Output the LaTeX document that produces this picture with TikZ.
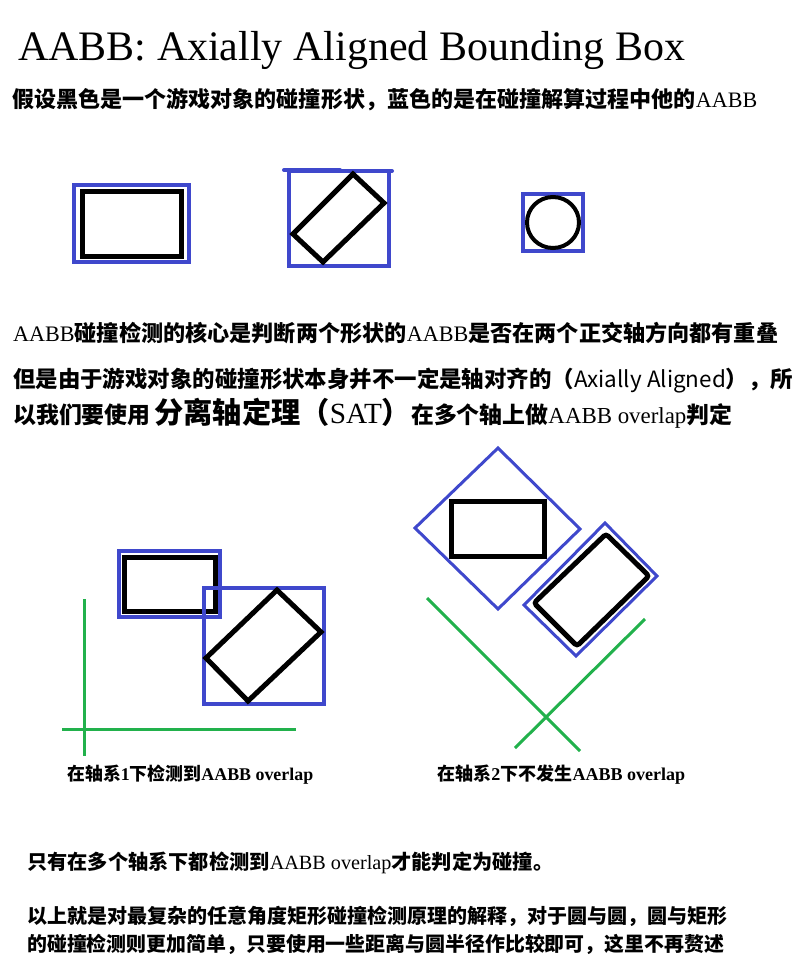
\documentclass[tikz,border=0pt]{standalone}
\usepackage{fontspec}
\usepackage{graphicx}
\setmainfont{Liberation Serif}
\newfontfamily\zhfont{Noto Sans CJK SC}
\newcommand{\zh}[1]{{\zhfont\bfseries #1}}
\newlength{\pxu}
\setlength{\pxu}{0.03cm}
\newcommand{\fitline}[2]{\resizebox{#1\pxu}{!}{#2}}
\definecolor{paintblue}{RGB}{63,72,204}
\definecolor{paintgreen}{RGB}{34,177,76}
\begin{document}
\begin{tikzpicture}[x=0.03cm,y=-0.03cm,
        aabb/.style={draw=paintblue,line width=4\pxu},
        collider/.style={draw=black,line width=5\pxu},
        axisline/.style={draw=paintgreen,line width=3\pxu},
        txt/.style={anchor=west,inner sep=0pt,font=\fontsize{18}{20}\selectfont},
        legende/.style={anchor=west,inner sep=0pt,font=\fontsize{13}{15}\selectfont\bfseries}]
    \useasboundingbox (0,0) rectangle (800,972);
    \node[anchor=west,inner sep=0pt,font=\fontsize{35}{40}\selectfont] (titre) at (18,50) {\fitline{667}{AABB: Axially Aligned Bounding Box}};
    \node[txt] (intro) at (12,100) {\fitline{745}{\zh{假设黑色是一个游戏对象的碰撞形状，蓝色的是在碰撞解算过程中他的}AABB}};
    % les trois formes et leur AABB
    \draw[aabb] (74,185) rectangle (189,262);
    \draw[collider] (82,191) rectangle (181,256);
    \draw[aabb] (289,171) rectangle (389,266);
    \draw[aabb,line cap=round] (284,170) -- (340,170) (340,171) -- (392,171);
    \draw[collider] (353,174) -- (384,203) -- (323,262) -- (293,234) -- cycle;
    \draw[aabb] (523,194) rectangle (583,251);
    \draw[collider,line width=4\pxu] (553,222.5) ellipse [x radius=26\pxu, y radius=25.5\pxu];
    % texte du milieu
    \node[txt] (coeur) at (13,333) {\fitline{765}{AABB\zh{碰撞检测的核心是判断两个形状的}AABB\zh{是否在两个正交轴方向都有重叠}}};
    \node[txt] (sat1) at (13,381) {\fitline{780}{\zh{但是由于游戏对象的碰撞形状本身并不一定是轴对齐的（}{\zhfont Axially Aligned}\zh{），所}}};
    \node[txt] (sat2) at (13,413) {\fitline{719}{\zh{以我们要使用}\,{\fontsize{23}{26}\selectfont\zh{分离轴定理（}SAT\zh{）}}\zh{在多个轴上做}AABB overlap\zh{判定}}};
    % axe 1
    \draw[aabb] (119,551) rectangle (220,617);
    \draw[collider] (124,557) rectangle (215,611);
    \draw[aabb] (204,588) rectangle (324,704);
    \draw[collider] (277,590) -- (321,632) -- (248,701) -- (206,658) -- cycle;
    \draw[axisline] (84,599) -- (84,756);
    \draw[axisline] (62,729) -- (296,729);
    \node[legende] (leg1) at (67,775) {\fitline{246}{\zh{在轴系}1\zh{下检测到}AABB overlap}};
    % axe 2
    \draw[aabb,line width=3\pxu] (498,448) -- (580,529) -- (498,609) -- (415,528) -- cycle;
    \draw[collider] (451,501) rectangle (544,556);
    \draw[aabb,line width=3\pxu] (605,523) -- (657,576) -- (576,656) -- (524,605) -- cycle;
    \draw[collider,rounded corners=3\pxu] (606,534) -- (649,576) -- (577,646) -- (534,603) -- cycle;
    \draw[axisline] (427,598) -- (580,751);
    \draw[axisline] (645,619) -- (515,748);
    \node[legende] (leg2) at (437,775) {\fitline{248}{\zh{在轴系}2\zh{下不发生}AABB overlap}};
    % conclusion
    \node[txt] (concl) at (27,863) {\fitline{526}{\zh{只有在多个轴系下都检测到}AABB overlap\zh{才能判定为碰撞。}}};
    \node[txt] (fin1) at (27,916) {\fitline{700}{\zh{以上就是对最复杂的任意角度矩形碰撞检测原理的解释，对于圆与圆，圆与矩形}}};
    \node[txt] (fin2) at (27,944) {\fitline{697}{\zh{的碰撞检测则更加简单，只要使用一些距离与圆半径作比较即可，这里不再赘述}}};
\end{tikzpicture}
\end{document}
